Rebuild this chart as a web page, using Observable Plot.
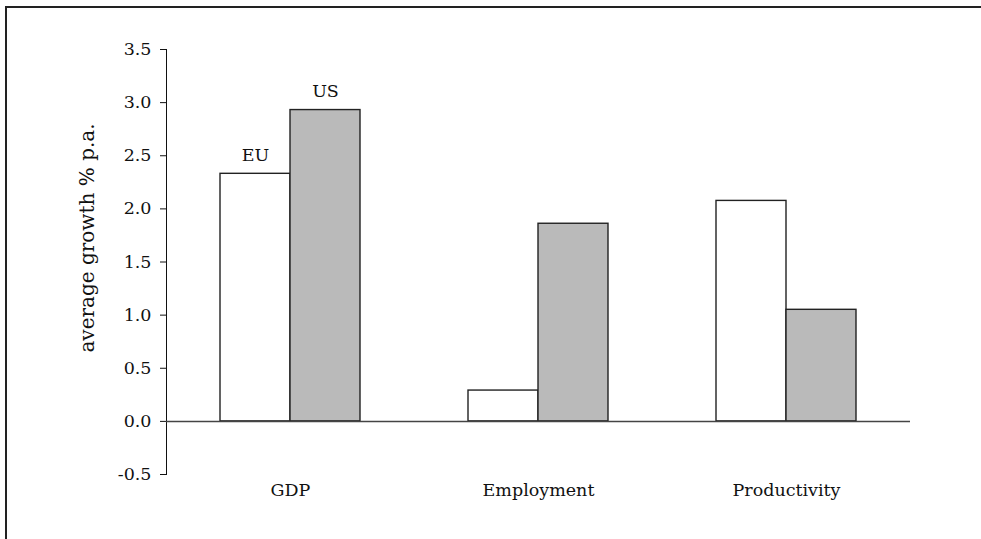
<!DOCTYPE html>
<html>
<head>
<meta charset="utf-8">
<script src="https://cdn.jsdelivr.net/npm/d3@7"></script>
<script src="https://cdn.jsdelivr.net/npm/@observablehq/plot@0.6"></script>
<style>
  html, body { margin: 0; padding: 0; background: #fff; overflow: hidden; }
  #wrap { position: relative; width: 981px; height: 539px; overflow: hidden; }
  #frame { position: absolute; left: 5px; top: 6px; width: 1200px; height: 800px;
           border-top: 2px solid #222; border-left: 2px solid #222; pointer-events: none; }
  #ylabel { position: absolute; left: 87px; top: 238px; transform: translate(-50%, -50%) rotate(-90deg);
            font-family: "DejaVu Serif", serif; font-size: 20px; white-space: nowrap; color: #111; }
  svg text { font-family: "DejaVu Serif", serif !important; font-size: 17.5px !important; }
</style>
</head>
<body>
<div id="wrap">
  <div id="chart"></div>
  <div id="frame"></div>
  <div id="ylabel">average growth % p.a.</div>
</div>
<script>
const categories = ["GDP", "Employment", "Productivity"];
const series = ["EU", "US"];
const euValues = [2.33, 0.29, 2.075];
const usValues = [2.93, 1.86, 1.05];
const yTicks = [-0.5, 0, 0.5, 1, 1.5, 2, 2.5, 3, 3.5];
const seriesFill = ["#ffffff", "#bababa"];

const data = [];
categories.forEach((c, i) => {
  data.push({cat: c, series: "EU", value: euValues[i]});
  data.push({cat: c, series: "US", value: usValues[i]});
});
const labelData = data.filter(d => d.cat === "GDP");

const chart = Plot.plot({
  width: 981,
  height: 539,
  marginLeft: 165,
  marginRight: 71,
  marginTop: 49,
  marginBottom: 65,
  style: {fontFamily: "'DejaVu Serif', serif", fontSize: "17.5px", color: "#111", background: "#fff"},
  fx: {domain: categories, padding: 0, axis: "bottom", label: null, tickSize: 0, tickPadding: 9},
  x: {domain: series, paddingInner: 0, paddingOuter: 0.75, axis: null},
  y: {domain: [-0.5, 3.5], ticks: yTicks, tickFormat: d => d.toFixed(1), tickSize: 6, tickPadding: 9, label: null, line: true},
  color: {domain: series, range: seriesFill},
  marks: [
    Plot.barY(data, {fx: "cat", x: "series", y: "value", fill: "series", stroke: "#222", strokeWidth: 1.4}),
    Plot.ruleY([0], {stroke: "#444", strokeWidth: 1.5}),
    Plot.text(labelData, {fx: "cat", x: "series", y: "value", text: "series", dy: -13, lineAnchor: "bottom", fontSize: 18, fill: "#111"})
  ]
});
document.getElementById("chart").appendChild(chart);
</script>
</body>
</html>
